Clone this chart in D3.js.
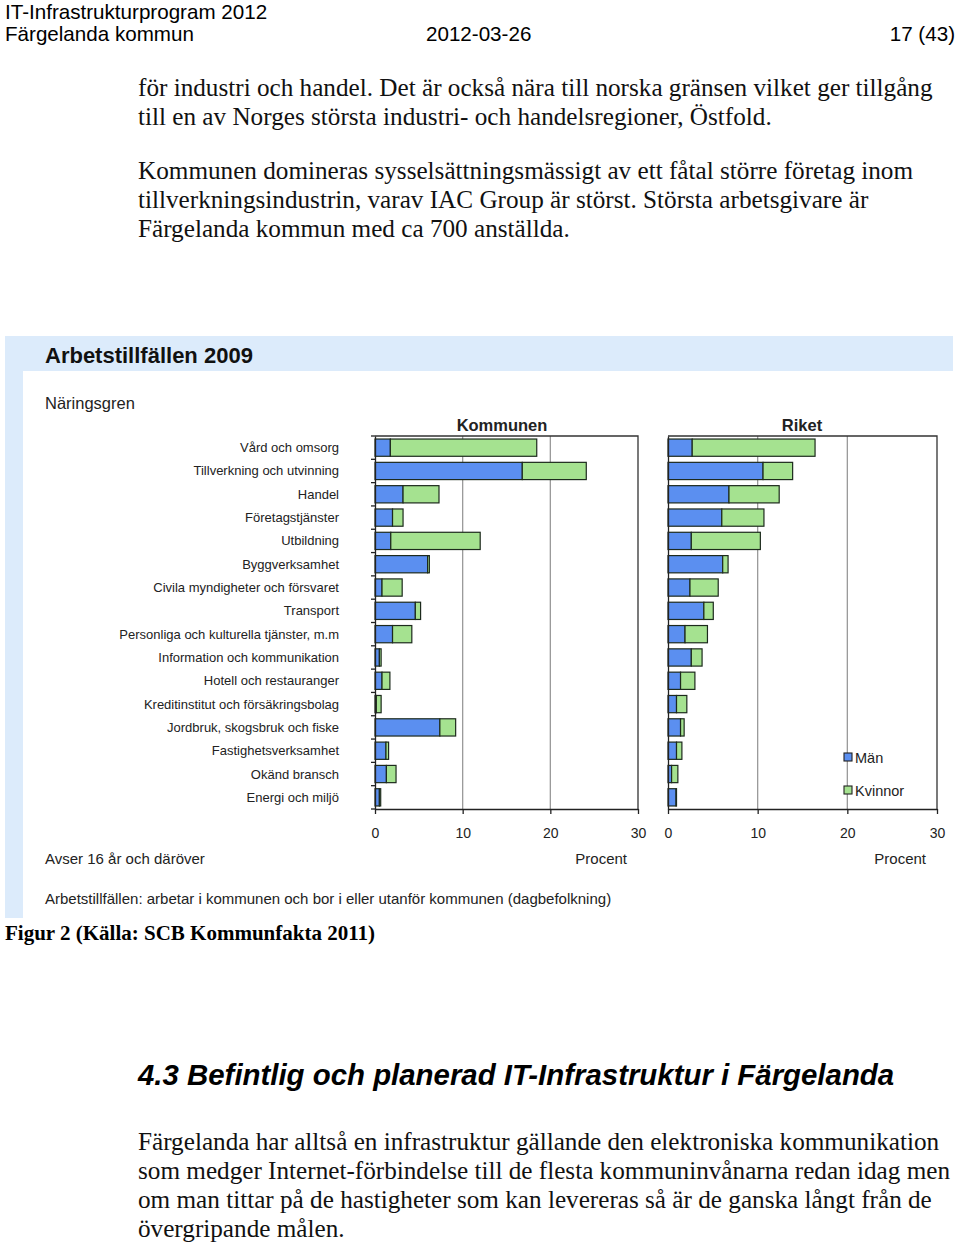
<!DOCTYPE html>
<html><head><meta charset="utf-8">
<script src="https://cdn.jsdelivr.net/npm/d3@7"></script>
<style>body{margin:0;background:#fff}svg{display:block}</style>
</head><body>
<script>
const categories = ["Vård och omsorg","Tillverkning och utvinning","Handel","Företagstjänster","Utbildning","Byggverksamhet","Civila myndigheter och försvaret","Transport","Personliga och kulturella tjänster, m.m","Information och kommunikation","Hotell och restauranger","Kreditinstitut och försäkringsbolag","Jordbruk, skogsbruk och fiske","Fastighetsverksamhet","Okänd bransch","Energi och miljö"];
const kommunMan     = [1.75,16.8,3.2,2.0,1.8,6.0,0.8,4.6,2.0,0.5,0.8,0.15,7.4,1.25,1.3,0.5];
const kommunKvinnor = [16.7,7.3,4.1,1.2,10.2,0.2,2.3,0.6,2.2,0.2,0.9,0.55,1.8,0.3,1.1,0.15];
const riketMan      = [2.7,10.6,6.8,6.0,2.6,6.1,2.45,4.0,1.9,2.6,1.4,0.95,1.4,0.95,0.4,0.9];
const riketKvinnor  = [13.7,3.3,5.6,4.7,7.7,0.6,3.15,1.05,2.5,1.2,1.6,1.15,0.4,0.6,0.7,0.05];
const xTicks = [0,10,20,30];
const seriesNames = ["Män","Kvinnor"];
const colors = ["#5b8ff0","#a5e290"];

const svg = d3.select("body").append("svg").attr("width",960).attr("height",1245);
const serif = "'Liberation Serif','Times New Roman',serif";
const sans = "'Liberation Sans',Arial,sans-serif";

// Page header
const hs = 20.6;
svg.append("text").attr("x",5).attr("y",18.8).attr("font-family",sans).attr("font-size",hs).attr("fill","#000").text("IT-Infrastrukturprogram 2012");
svg.append("text").attr("x",5).attr("y",41).attr("font-family",sans).attr("font-size",hs).text("Färgelanda kommun");
svg.append("text").attr("x",426).attr("y",41).attr("font-family",sans).attr("font-size",hs).text("2012-03-26");
svg.append("text").attr("x",955).attr("y",41).attr("text-anchor","end").attr("font-family",sans).attr("font-size",hs).text("17 (43)");

const bodySize = 25.2;
function para(lines, y0){
  lines.forEach((l,i)=>svg.append("text").attr("x",138).attr("y",y0+i*29).attr("font-family",serif).attr("font-size",bodySize).attr("fill","#111").text(l));
}
para(["för industri och handel. Det är också nära till norska gränsen vilket ger tillgång","till en av Norges största industri- och handelsregioner, Östfold."],96);
para(["Kommunen domineras sysselsättningsmässigt av ett fåtal större företag inom","tillverkningsindustrin, varav IAC Group är störst. Största arbetsgivare är","Färgelanda kommun med ca 700 anställda."],179);

// Chart background
const bg = "#dcebfb";
svg.append("rect").attr("x",5).attr("y",336).attr("width",948).attr("height",35).attr("fill",bg);
svg.append("rect").attr("x",5).attr("y",336).attr("width",18).attr("height",582).attr("fill",bg);

svg.append("text").attr("x",45).attr("y",363).attr("font-family",sans).attr("font-weight","bold").attr("font-size",22).attr("fill","#111").text("Arbetstillfällen 2009");
svg.append("text").attr("x",45).attr("y",409).attr("font-family",sans).attr("font-size",16.5).attr("fill","#222").text("Näringsgren");

const y = d3.scaleBand().domain(categories).range([436,809]).paddingInner(0.26).paddingOuter(0.13);

function panel(x0,x1,title,titleX,man,kv,showYTicks){
  const x = d3.scaleLinear().domain([0,30]).range([x0,x1]);
  const g = svg.append("g");
  g.selectAll("line.grid").data([10,20]).join("line").attr("x1",d=>x(d)).attr("x2",d=>x(d)).attr("y1",436).attr("y2",809).attr("stroke","#9a9a9a").attr("stroke-width",1.3);
  g.append("path").attr("d",`M${x0},436H${x1}V809`).attr("fill","none").attr("stroke","#333").attr("stroke-width",1.3);
  const stack = d3.stack().keys([0,1])(categories.map((c,i)=>({c,0:man[i],1:kv[i]})));
  stack.forEach((layer,k)=>{
    g.selectAll(null).data(layer).join("rect")
      .attr("x",d=>x(d[0])).attr("width",d=>x(d[1])-x(d[0]))
      .attr("y",d=>y(d.data.c)).attr("height",y.bandwidth())
      .attr("fill",colors[k]).attr("stroke","#1d2a1d").attr("stroke-width",1.2);
  });
  const ax = g.append("g").attr("transform","translate(0,809)").call(d3.axisBottom(x).tickValues(xTicks).tickSize(5).tickSizeOuter(0));
  ax.select(".domain").attr("stroke","#222").attr("stroke-width",1.3);
  ax.selectAll(".tick line").attr("stroke","#222").attr("stroke-width",1.3);
  ax.selectAll("text").attr("font-family",sans).attr("font-size",14).attr("fill","#222").attr("dy",0).attr("y",29);
  const ay = g.append("g").attr("transform",`translate(${x0},0)`).call(d3.axisLeft(y).tickSize(0).tickFormat(""));
  ay.select(".domain").attr("stroke","#222").attr("stroke-width",1.3);
  if(showYTicks){
    const bounds = categories.map(c=>y(c)-y.step()*y.paddingInner()/2).concat([809]);
    g.selectAll(null).data(bounds).join("line").attr("x1",x0-4).attr("x2",x0).attr("y1",d=>d).attr("y2",d=>d).attr("stroke","#222").attr("stroke-width",1.3);
  }
  g.append("text").attr("x",titleX).attr("y",431).attr("text-anchor","middle").attr("font-family",sans).attr("font-weight","bold").attr("font-size",16.5).attr("fill","#222").text(title);
  g.append("text").attr("x",x1-11).attr("y",864).attr("text-anchor","end").attr("font-family",sans).attr("font-size",15).attr("fill","#222").text("Procent");
  return x;
}
panel(375,638,"Kommunen",502,kommunMan,kommunKvinnor,true);
panel(668,937,"Riket",802,riketMan,riketKvinnor,false);

svg.selectAll("text.cat").data(categories).join("text").attr("class","cat")
  .attr("x",339).attr("y",d=>y(d)+y.bandwidth()/2+4.5).attr("text-anchor","end")
  .attr("font-family",sans).attr("font-size",13).attr("fill","#222").text(d=>d);

const leg = svg.append("g");
seriesNames.forEach((s,i)=>{
  leg.append("rect").attr("x",844).attr("y",753+i*33).attr("width",8).attr("height",8).attr("fill",colors[i]).attr("stroke","#222").attr("stroke-width",1.1);
  leg.append("text").attr("x",855).attr("y",763+i*33).attr("font-family",sans).attr("font-size",14.5).attr("fill","#222").text(s);
});

svg.append("text").attr("x",45).attr("y",864).attr("font-family",sans).attr("font-size",15).attr("fill","#222").text("Avser 16 år och däröver");
svg.append("text").attr("x",45).attr("y",904).attr("font-family",sans).attr("font-size",15).attr("fill","#222").text("Arbetstillfällen: arbetar i kommunen och bor i eller utanför kommunen (dagbefolkning)");

svg.append("text").attr("x",5).attr("y",940).attr("font-family",serif).attr("font-weight","bold").attr("font-size",21).text("Figur 2 (Källa: SCB Kommunfakta 2011)");

svg.append("text").attr("x",138).attr("y",1085).attr("font-family",sans).attr("font-weight","bold").attr("font-style","italic").attr("font-size",29.4).text("4.3 Befintlig och planerad IT-Infrastruktur i Färgelanda");

[ "Färgelanda har alltså en infrastruktur gällande den elektroniska kommunikation",
  "som medger Internet-förbindelse till de flesta kommuninvånarna redan idag men",
  "om man tittar på de hastigheter som kan levereras så är de ganska långt från de",
  "övergripande målen."].forEach((l,i)=>svg.append("text").attr("x",138).attr("y",1150+i*29).attr("font-family",serif).attr("font-size",bodySize).attr("fill","#111").text(l));
</script>
</body></html>
